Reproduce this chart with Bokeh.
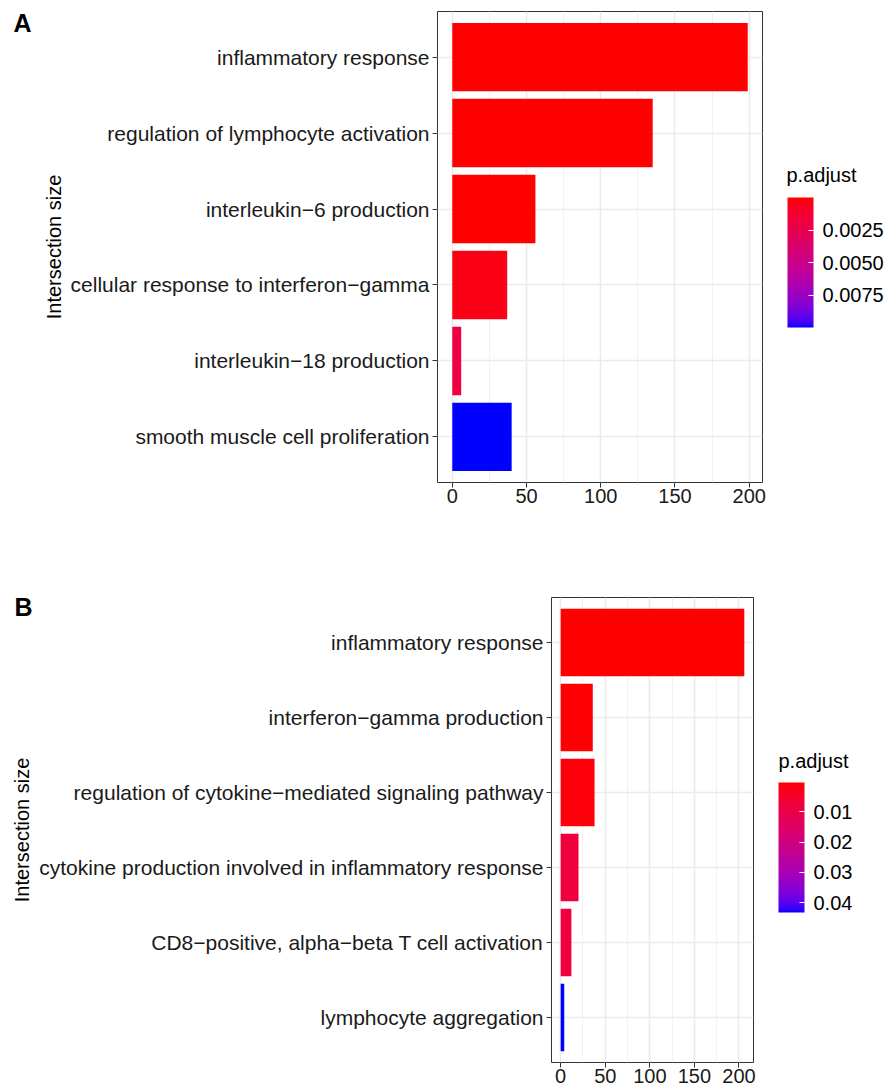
import numpy as np
from bokeh.plotting import figure
from bokeh.models import (ColumnDataSource, FactorRange, Range1d, LinearColorMapper,
                          ColorBar, FixedTicker, PrintfTickFormatter, Label)
from bokeh.layouts import column
from bokeh.transform import transform
from bokeh.embed import file_html
from bokeh.resources import INLINE

# ---------------- data ----------------
terms_a = ["inflammatory response",
           "regulation of lymphocyte activation",
           "interleukin\u22126 production",
           "cellular response to interferon\u2212gamma",
           "interleukin\u221218 production",
           "smooth muscle cell proliferation"]
counts_a = [199, 135, 56, 37, 6, 40]
padj_a = [2.0e-8, 3.0e-7, 6.0e-6, 0.00040, 0.0019, 0.00998]
legend_ticks_a = [0.0025, 0.0050, 0.0075]

terms_b = ["inflammatory response",
           "interferon\u2212gamma production",
           "regulation of cytokine\u2212mediated signaling pathway",
           "cytokine production involved in inflammatory response",
           "CD8\u2212positive, alpha\u2212beta T cell activation",
           "lymphocyte aggregation"]
counts_b = [206, 36, 38, 20, 12, 4]
padj_b = [0.0004, 0.0006, 0.0012, 0.0077, 0.0081, 0.0432]
legend_ticks_b = [0.01, 0.02, 0.03, 0.04]

x_ticks = [0, 50, 100, 150, 200]
x_minor = [25, 75, 125, 175]

FONT = "Liberation Sans"
W = 893


# ---------------- colour ramp (CIELAB, red -> blue, like ggplot) -------------
def _srgb_to_lab(c):
    c = np.array([int(c[i:i + 2], 16) for i in (1, 3, 5)]) / 255.0
    lin = np.where(c <= 0.04045, c / 12.92, ((c + 0.055) / 1.055) ** 2.4)
    M = np.array([[0.4124, 0.3576, 0.1805], [0.2126, 0.7152, 0.0722], [0.0193, 0.1192, 0.9505]])
    xyz = M @ lin / np.array([0.95047, 1.0, 1.08883])
    f = np.where(xyz > 0.008856, np.cbrt(xyz), 7.787 * xyz + 16 / 116)
    return np.array([116 * f[1] - 16, 500 * (f[0] - f[1]), 200 * (f[1] - f[2])])


def _lab_to_hex(lab):
    L, a, b = lab
    fy = (L + 16) / 116
    fx = fy + a / 500
    fz = fy - b / 200
    f = np.array([fx, fy, fz])
    xyz = np.where(f ** 3 > 0.008856, f ** 3, (f - 16 / 116) / 7.787) * np.array([0.95047, 1.0, 1.08883])
    Mi = np.array([[3.2406, -1.5372, -0.4986], [-0.9689, 1.8758, 0.0415], [0.0557, -0.2040, 1.0570]])
    lin = np.clip(Mi @ xyz, 0, 1)
    c = np.where(lin <= 0.0031308, 12.92 * lin, 1.055 * lin ** (1 / 2.4) - 0.055)
    c = np.clip(np.round(c * 255), 0, 255).astype(int)
    return "#%02x%02x%02x" % tuple(c)


lab_lo = _srgb_to_lab("#ff0000")
lab_hi = _srgb_to_lab("#0000ff")
ramp = [_lab_to_hex(lab_lo + t * (lab_hi - lab_lo)) for t in np.linspace(0, 1, 256)]


def make_panel(terms, counts, padj, lticks, fmt, height, frame_left, frame_right,
               top, bottom, cb_x, cb_y):
    src = ColumnDataSource(dict(term=terms, count=counts, padj=padj))
    bar_mapper = LinearColorMapper(palette=ramp, low=min(padj), high=max(padj))
    # reversed mapper so that the colour bar shows small p.adjust (red) at the top
    cb_mapper = LinearColorMapper(palette=ramp[::-1], low=max(padj), high=min(padj))
    xmax = max(counts)
    p = figure(width=W, height=height, output_backend="svg", toolbar_location=None,
               y_range=FactorRange(factors=list(reversed(terms)), range_padding=0.1,
                                   range_padding_units="absolute"),
               x_range=Range1d(-0.05 * xmax, 1.05 * xmax),
               min_border_left=frame_left, min_border_right=W - frame_right,
               min_border_top=top, min_border_bottom=bottom, frame_align=False)
    p.hbar(y="term", left=0, right="count", height=0.9, source=src,
           fill_color=transform("padj", bar_mapper), line_color=None)

    p.outline_line_color = "#333333"
    p.xaxis.ticker = FixedTicker(ticks=x_ticks, minor_ticks=x_minor)
    p.xgrid.grid_line_color = "#EBEBEB"
    p.xgrid.grid_line_width = 1.6
    p.xgrid.minor_grid_line_color = "#F2F2F2"
    p.xgrid.minor_grid_line_width = 1
    p.ygrid.grid_line_color = "#EBEBEB"
    p.ygrid.grid_line_width = 1.6
    for ax in (p.xaxis[0], p.yaxis[0]):
        ax.axis_line_color = None
        ax.major_tick_line_color = "#333333"
        ax.major_tick_out = 5
        ax.major_tick_in = 0
        ax.minor_tick_line_color = None
        ax.major_label_text_font = FONT
        ax.major_label_text_color = "#1a1a1a"
    p.xaxis.major_label_text_font_size = "20px"
    p.yaxis.major_label_text_font_size = "21px"
    p.xaxis.major_label_standoff = 1
    p.yaxis.major_label_standoff = 3
    p.yaxis.axis_label = "Intersection size"
    p.yaxis.axis_label_text_font = FONT
    p.yaxis.axis_label_text_font_size = "20px"
    p.yaxis.axis_label_text_font_style = "normal"
    p.yaxis.axis_label_text_color = "#000000"
    p.yaxis.axis_label_standoff = 3

    cb = ColorBar(color_mapper=cb_mapper, ticker=FixedTicker(ticks=lticks),
                  formatter=PrintfTickFormatter(format=fmt),
                  width=26, height=130, padding=0, location=(cb_x, cb_y),
                  major_label_text_font=FONT, major_label_text_font_size="20px",
                  major_label_text_color="#000000", label_standoff=9,
                  major_tick_line_color="white", major_tick_in=5, major_tick_out=0,
                  bar_line_color=None, border_line_color=None, background_fill_color=None)
    p.add_layout(cb, "center")
    return p


pa = make_panel(terms_a, counts_a, padj_a, legend_ticks_a, "%.4f",
                height=548, frame_left=437, frame_right=762, top=11, bottom=66,
                cb_x=350, cb_y=155)
pb = make_panel(terms_b, counts_b, padj_b, legend_ticks_b, "%.2f",
                height=544, frame_left=551, frame_right=753, top=49, bottom=30,
                cb_x=227, cb_y=150)

# legend titles (labels in the right side panel)
pa.add_layout(Label(x=24, y=297, x_units="screen", y_units="screen", text="p.adjust",
                    text_font=FONT, text_font_size="20px", text_color="black"), "right")
pb.add_layout(Label(x=25, y=291, x_units="screen", y_units="screen", text="p.adjust",
                    text_font=FONT, text_font_size="20px", text_color="black"), "right")
# panel letters
pa.add_layout(Label(x=-8, y=446, x_units="screen", y_units="screen", text="A",
                    text_font=FONT, text_font_size="25px", text_font_style="bold",
                    text_color="black"), "left")
pb.add_layout(Label(x=-537, y=-9, x_units="screen", y_units="screen", text="B",
                    text_font=FONT, text_font_size="25px", text_font_style="bold",
                    text_baseline="alphabetic", text_color="black"), "above")

layout = column(pa, pb, spacing=0)
open("out.html", "w").write(file_html(layout, INLINE))
